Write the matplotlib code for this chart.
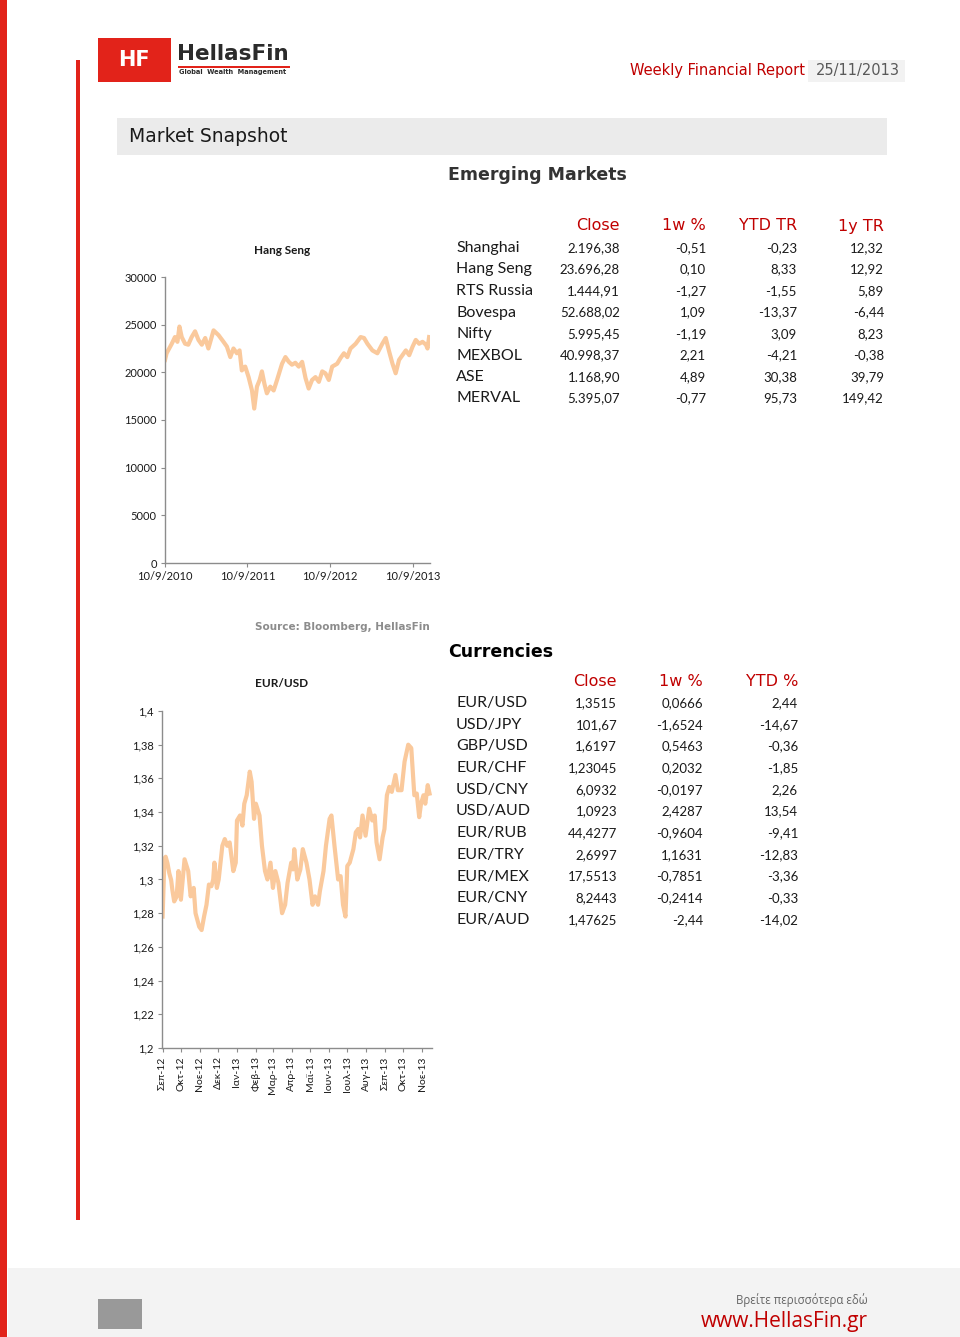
import numpy as np
import pandas as pd
import matplotlib
matplotlib.use('Agg')
import matplotlib.pyplot as plt
from matplotlib.patches import Rectangle
from matplotlib.ticker import FixedLocator

W, H = 960, 1337
red = '#e2231a'
hdr_red = '#c00000'
peach = '#fac99c'
axis_grey = '#8c8c8c'
txt = '#1a1a1a'
calibri = ['Lato', 'DejaVu Sans']
verdana = ['DejaVu Sans']

# ---- emerging markets table
em_cols = ['Close', '1w %', 'YTD TR', '1y TR']
em_names = ['Shanghai', 'Hang Seng', 'RTS Russia', 'Bovespa', 'Nifty', 'MEXBOL', 'ASE', 'MERVAL']
em_close = ['2.196,38', '23.696,28', '1.444,91', '52.688,02', '5.995,45', '40.998,37', '1.168,90', '5.395,07']
em_1w = ['-0,51', '0,10', '-1,27', '1,09', '-1,19', '2,21', '4,89', '-0,77']
em_ytd = ['-0,23', '8,33', '-1,55', '-13,37', '3,09', '-4,21', '30,38', '95,73']
em_1y = ['12,32', '12,92', '5,89', '-6,44', '8,23', '-0,38', '39,79', '149,42']

# ---- currencies table
fx_cols = ['Close', '1w %', 'YTD %']
fx_names = ['EUR/USD', 'USD/JPY', 'GBP/USD', 'EUR/CHF', 'USD/CNY', 'USD/AUD',
            'EUR/RUB', 'EUR/TRY', 'EUR/MEX', 'EUR/CNY', 'EUR/AUD']
fx_close = ['1,3515', '101,67', '1,6197', '1,23045', '6,0932', '1,0923',
            '44,4277', '2,6997', '17,5513', '8,2443', '1,47625']
fx_1w = ['0,0666', '-1,6524', '0,5463', '0,2032', '-0,0197', '2,4287',
         '-0,9604', '1,1631', '-0,7851', '-0,2414', '-2,44']
fx_ytd = ['2,44', '-14,67', '-0,36', '-1,85', '2,26', '13,54',
          '-9,41', '-12,83', '-3,36', '-0,33', '-14,02']

# ---- Hang Seng
hs_dates = ['2010-09-10', '2010-09-17', '2010-10-10', '2010-10-24', '2010-11-04', '2010-11-13', '2010-11-23',
            '2010-12-08', '2010-12-22', '2011-01-06', '2011-01-21', '2011-02-05', '2011-02-20', '2011-03-07',
            '2011-03-21', '2011-04-13', '2011-05-05', '2011-05-27', '2011-06-11', '2011-06-26', '2011-07-10',
            '2011-07-25', '2011-08-06', '2011-08-16', '2011-08-31', '2011-09-15', '2011-09-30', '2011-10-10',
            '2011-10-22', '2011-11-03', '2011-11-13', '2011-11-24', '2011-12-05', '2011-12-20', '2012-01-04',
            '2012-01-19', '2012-02-10', '2012-02-25', '2012-03-11', '2012-03-25', '2012-04-09', '2012-04-24',
            '2012-05-09', '2012-05-24', '2012-06-07', '2012-06-22', '2012-07-07', '2012-07-22', '2012-08-06',
            '2012-08-20', '2012-09-04', '2012-09-19', '2012-10-11', '2012-10-26', '2012-11-10', '2012-11-25',
            '2012-12-09', '2013-01-01', '2013-01-23', '2013-02-07', '2013-02-22', '2013-03-16', '2013-04-07',
            '2013-04-29', '2013-05-14', '2013-05-29', '2013-06-13', '2013-06-27', '2013-07-12', '2013-07-27',
            '2013-08-11', '2013-08-26', '2013-09-10', '2013-09-24', '2013-10-09', '2013-10-24', '2013-11-08',
            '2013-11-15', '2013-11-22']
hs_close = [21300, 22000, 23000, 23700, 23200, 24800, 23700, 23000, 22900, 23700, 24300, 23400, 22900, 23600,
            22500, 24400, 23900, 23200, 22700, 21600, 22500, 22000, 22300, 20200, 20600, 19500, 18100, 16200,
            18500, 19200, 20100, 18800, 17800, 18500, 18100, 19200, 20900, 21600, 21100, 20800, 21000, 20600,
            21100, 19400, 18300, 19200, 19500, 19000, 20100, 19900, 19200, 20600, 20900, 21500, 22000, 21600,
            22500, 23000, 23700, 23600, 23000, 22300, 22000, 23000, 23600, 22200, 20900, 19900, 21300, 21800,
            22300, 21800, 22700, 23400, 23000, 23200, 22900, 22500, 23700]
hs_ticks = ['2010-09-10', '2011-09-10', '2012-09-10', '2013-09-10']
hs_ticklabels = ['10/9/2010', '10/9/2011', '10/9/2012', '10/9/2013']
hs_yticks = [0, 5000, 10000, 15000, 20000, 25000, 30000]

# ---- EUR/USD
eu_dates = ['2012-09-10', '2012-09-13', '2012-09-15', '2012-09-18', '2012-09-21', '2012-09-24', '2012-09-26',
            '2012-09-29', '2012-10-03', '2012-10-06', '2012-10-10', '2012-10-16', '2012-10-22', '2012-10-26',
            '2012-10-31', '2012-11-03', '2012-11-09', '2012-11-13', '2012-11-17', '2012-11-21', '2012-11-25',
            '2012-11-29', '2012-12-02', '2012-12-04', '2012-12-08', '2012-12-11', '2012-12-14', '2012-12-17',
            '2012-12-21', '2012-12-25', '2012-12-29', '2013-01-04', '2013-01-08', '2013-01-10', '2013-01-15',
            '2013-01-19', '2013-01-22', '2013-01-26', '2013-01-31', '2013-02-03', '2013-02-07', '2013-02-10',
            '2013-02-16', '2013-02-20', '2013-02-25', '2013-03-01', '2013-03-06', '2013-03-10', '2013-03-14',
            '2013-03-19', '2013-03-25', '2013-03-30', '2013-04-03', '2013-04-09', '2013-04-12', '2013-04-14',
            '2013-04-19', '2013-04-24', '2013-04-28', '2013-05-04', '2013-05-09', '2013-05-14', '2013-05-18',
            '2013-05-23', '2013-05-26', '2013-06-01', '2013-06-05', '2013-06-11', '2013-06-14', '2013-06-19',
            '2013-06-22', '2013-06-25', '2013-06-29', '2013-07-03', '2013-07-07', '2013-07-10', '2013-07-14',
            '2013-07-20', '2013-07-24', '2013-07-28', '2013-07-31', '2013-08-04', '2013-08-09', '2013-08-15',
            '2013-08-20', '2013-08-24', '2013-08-27', '2013-09-01', '2013-09-06', '2013-09-09', '2013-09-13',
            '2013-09-17', '2013-09-21', '2013-09-27', '2013-10-01', '2013-10-07', '2013-10-12', '2013-10-18',
            '2013-10-23', '2013-10-28', '2013-11-01', '2013-11-05', '2013-11-08', '2013-11-12', '2013-11-15',
            '2013-11-19', '2013-11-22']
eu_close = [1.278, 1.3125, 1.3135, 1.3096, 1.3037, 1.2997, 1.2938,
            1.287, 1.2898, 1.305, 1.288, 1.312, 1.305, 1.29,
            1.295, 1.28, 1.272, 1.27, 1.278, 1.285, 1.297,
            1.296, 1.30, 1.31, 1.295, 1.30, 1.31, 1.32,
            1.324, 1.32, 1.322, 1.305, 1.31, 1.335, 1.338,
            1.332, 1.345, 1.35, 1.364, 1.358, 1.336, 1.345,
            1.338, 1.32, 1.305, 1.30, 1.31, 1.295, 1.305,
            1.298, 1.28, 1.285, 1.298, 1.31, 1.306, 1.318,
            1.30, 1.306, 1.318, 1.31, 1.30, 1.285, 1.29,
            1.285, 1.293, 1.305, 1.32, 1.336, 1.338, 1.32,
            1.31, 1.30, 1.302, 1.285, 1.278, 1.308, 1.31,
            1.318, 1.328, 1.33, 1.325, 1.338, 1.326, 1.342,
            1.335, 1.338, 1.322, 1.312, 1.325, 1.33, 1.35,
            1.355, 1.352, 1.362, 1.353, 1.353, 1.37, 1.38,
            1.378, 1.35, 1.351, 1.337, 1.345, 1.35, 1.345,
            1.356, 1.351]
eu_ticks = ['2012-09-10', '2012-10-10', '2012-11-10', '2012-12-10', '2013-01-10', '2013-02-10', '2013-03-10',
            '2013-04-10', '2013-05-10', '2013-06-10', '2013-07-10', '2013-08-10', '2013-09-10', '2013-10-10',
            '2013-11-10']
eu_ticklabels = ['Σεπ-12', 'Οκτ-12', 'Νοε-12', 'Δεκ-12', 'Ιαν-13', 'Φεβ-13', 'Μαρ-13', 'Απρ-13',
                 'Μαϊ-13', 'Ιουν-13', 'Ιουλ-13', 'Αυγ-13', 'Σεπ-13', 'Οκτ-13', 'Νοε-13']
eu_yticks = [1.2, 1.22, 1.24, 1.26, 1.28, 1.3, 1.32, 1.34, 1.36, 1.38, 1.4]

assert len(hs_dates) == len(hs_close)
assert len(eu_dates) == len(eu_close)


def fx(x):
    return x / W


def fy(y):
    return 1 - y / H


def box(fig, x0, y0, x1, y1, color):
    fig.add_artist(Rectangle((fx(x0), fy(y1)), fx(x1) - fx(x0), (y1 - y0) / H,
                             transform=fig.transFigure, facecolor=color, edgecolor='none'))


def put(fig, x, y, s, **kw):
    fig.text(fx(x), fy(y), s, **kw)


def style_axes(ax):
    for side in ['top', 'right']:
        ax.spines[side].set_visible(False)
    for side in ['left', 'bottom']:
        ax.spines[side].set_color(axis_grey)
        ax.spines[side].set_linewidth(1.0)
    ax.tick_params(direction='out', length=3, width=0.8, color=axis_grey, labelcolor=txt, pad=3)
    ax.patch.set_alpha(0)


fig = plt.figure(figsize=(W / 100, H / 100), dpi=100)

# page frame
box(fig, 0, 0, 7, H, red)
box(fig, 76, 60, 80, 1220, red)
box(fig, 8, 1268, W, H, '#f3f3f3')
box(fig, 98, 1299, 142, 1329, '#999999')

# logo
box(fig, 98, 38, 171, 82, red)
put(fig, 134, 60, 'HF', color='white', fontsize=15, fontweight='bold', family=verdana, ha='center', va='center')
put(fig, 177, 54, 'HellasFin', color='#2b2b2b', fontsize=15.5, fontweight='bold', family=verdana, ha='left', va='center')
box(fig, 178, 66, 290, 68, red)
put(fig, 233, 72, 'Global  Wealth  Management', color='#2b2b2b', fontsize=4.8, fontweight='bold',
    family=verdana, ha='center', va='center')

# header
box(fig, 808, 60, 905, 82, '#f2f2f2')
put(fig, 805, 70, 'Weekly Financial Report', color=hdr_red, fontsize=10.5, family=verdana, ha='right', va='center')
put(fig, 900, 71, '25/11/2013', color='#595959', fontsize=10.5, family=verdana, ha='right', va='center')
box(fig, 117, 118, 887, 155, '#ebebeb')
put(fig, 129, 137, 'Market Snapshot', color=txt, fontsize=13.5, family=verdana, ha='left', va='center')
put(fig, 448, 175, 'Emerging Markets', color='#333333', fontsize=12.5, fontweight='bold', family=verdana,
    ha='left', va='center')
put(fig, 448, 652, 'Currencies', color='black', fontsize=12.5, fontweight='bold', family=verdana,
    ha='left', va='center')

# emerging markets table
em_right = [620, 706, 797, 884]
for x, c in zip(em_right, em_cols):
    put(fig, x, 226, c, color=hdr_red, fontsize=11.5, family=verdana, ha='right', va='center')
for i, name in enumerate(em_names):
    y = 248 + 21.5 * i
    put(fig, 456, y, name, color=txt, fontsize=11.5, family=calibri, ha='left', va='center')
    for x, col in zip(em_right, [em_close, em_1w, em_ytd, em_1y]):
        put(fig, x, y, col[i], color=txt, fontsize=9.5, family=calibri, ha='right', va='center')

# currencies table
fx_right = [617, 703, 798]
for x, c in zip(fx_right, fx_cols):
    put(fig, x, 681, c, color=hdr_red, fontsize=11.5, family=verdana, ha='right', va='center')
for i, name in enumerate(fx_names):
    y = 703 + 21.7 * i
    put(fig, 456, y, name, color=txt, fontsize=11.5, family=calibri, ha='left', va='center')
    for x, col in zip(fx_right, [fx_close, fx_1w, fx_ytd]):
        put(fig, x, y, col[i], color=txt, fontsize=9.5, family=calibri, ha='right', va='center')

# Hang Seng chart
ax1 = fig.add_axes([fx(165), fy(563), (430 - 165) / W, (563 - 277) / H])
ax1.plot(pd.to_datetime(hs_dates), hs_close, color=peach, lw=3, solid_joinstyle='round')
ax1.set_ylim(0, 30000)
ax1.set_xlim(pd.Timestamp('2010-09-10'), pd.Timestamp('2013-11-26'))
ax1.yaxis.set_major_locator(FixedLocator(hs_yticks))
ax1.set_yticklabels([str(v) for v in hs_yticks], family=calibri, fontsize=8)
ax1.xaxis.set_major_locator(FixedLocator(matplotlib.dates.date2num(pd.to_datetime(hs_ticks))))
ax1.set_xticklabels(hs_ticklabels, family=calibri, fontsize=8)
style_axes(ax1)
put(fig, 282, 250, 'Hang Seng', color=txt, fontsize=8.5, fontweight='bold', family=calibri, ha='center', va='center')
put(fig, 430, 627, 'Source: Bloomberg, HellasFin', color='#8c8c8c', fontsize=7.5, fontweight='bold',
    family=verdana, ha='right', va='center')

# EUR/USD chart
ax2 = fig.add_axes([fx(162), fy(1048), (432 - 162) / W, (1048 - 711) / H])
ax2.plot(pd.to_datetime(eu_dates), eu_close, color=peach, lw=3, solid_joinstyle='round')
ax2.set_ylim(1.2, 1.4)
ax2.set_xlim(pd.Timestamp('2012-09-09'), pd.Timestamp('2013-11-26'))
ax2.yaxis.set_major_locator(FixedLocator(eu_yticks))
ax2.set_yticklabels([('%g' % v).replace('.', ',') for v in eu_yticks], family=calibri, fontsize=8)
ax2.xaxis.set_major_locator(FixedLocator(matplotlib.dates.date2num(pd.to_datetime(eu_ticks))))
ax2.set_xticklabels(eu_ticklabels, family=calibri, fontsize=7.5, rotation=90)
ax2.tick_params(axis='x', pad=2)
style_axes(ax2)
put(fig, 282, 683, 'EUR/USD', color=txt, fontsize=8.5, fontweight='bold', family=calibri, ha='center', va='center')

# footer
put(fig, 868, 1300, 'Βρείτε περισσότερα εδώ', color='#666666', fontsize=8.3, family=['Open Sans', 'DejaVu Sans'],
    ha='right', va='center')
put(fig, 868, 1322, 'www.HellasFin.gr', color=hdr_red, fontsize=15, family=['Open Sans', 'DejaVu Sans'],
    ha='right', va='center')

fig.savefig('out.png', dpi=100)
